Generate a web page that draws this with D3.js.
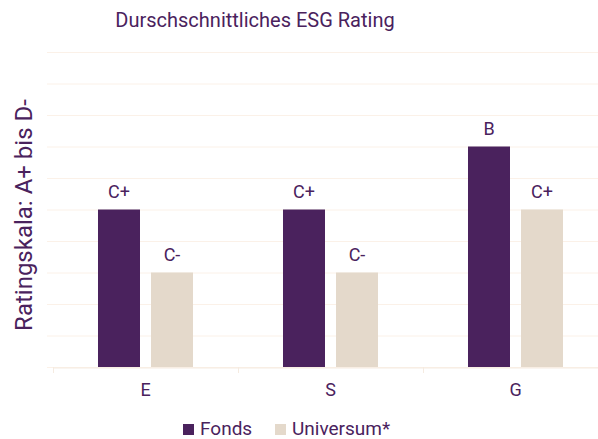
<!DOCTYPE html>
<html>
<head>
<meta charset="utf-8">
<script src="https://cdn.jsdelivr.net/npm/d3@7"></script>
<style>
  body { margin: 0; background: #fff; }
  text { font-family: Roboto, Inter, "DejaVu Sans", sans-serif; fill: #4a225d; }
</style>
</head>
<body>
<div class="svg"></div>
<script>
var categories = ["E", "S", "G"];
var series = ["Fonds", "Universum*"];
var fondsValues = [5, 5, 7];
var universumValues = [3, 3, 5];
var fondsLabels = ["C+", "C+", "B"];
var universumLabels = ["C-", "C-", "C+"];
var yTicks = d3.range(0, 11);

var width = 598,
    height = 439;

var purple = "#4a225d",
    beige = "#e4d9cb",
    grid = "#fbf1e8";

var svg = d3.select(".svg").append("svg")
    .attr("width", width)
    .attr("height", height);

var x0 = d3.scaleBand()
    .domain(categories)
    .range([53, 608])
    .padding(0);

var x1 = d3.scaleBand()
    .domain(series)
    .range([0, x0.bandwidth()])
    .paddingInner(0.2075)
    .paddingOuter(0.849);

var y = d3.scaleLinear()
    .domain([0, 10])
    .range([367, 52]);

var color = d3.scaleOrdinal()
    .domain(series)
    .range([purple, beige]);

// gridlines
svg.append("g")
    .selectAll("line")
    .data(yTicks)
    .enter().append("line")
    .attr("x1", 47)
    .attr("x2", width)
    .attr("y1", function (d) { return y(d) + 0.5; })
    .attr("y2", function (d) { return y(d) + 0.5; })
    .attr("stroke", grid)
    .attr("stroke-width", 1);

// x axis
var xAxis = svg.append("g")
    .attr("transform", "translate(0," + (y(0) + 0.5) + ")")
    .call(d3.axisBottom(x0).tickSize(0).tickPadding(16).tickSizeOuter(0));
xAxis.select(".domain").attr("stroke", "#f5ebe1");
xAxis.selectAll("text")
    .attr("font-size", 18)
    .attr("fill", purple)
    .style("font-family", "Roboto, Inter, sans-serif");

// band boundary ticks
svg.append("g")
    .selectAll("line")
    .data(categories)
    .enter().append("line")
    .attr("x1", function (d) { return Math.round(x0(d)) + 0.5; })
    .attr("x2", function (d) { return Math.round(x0(d)) + 0.5; })
    .attr("y1", y(0))
    .attr("y2", y(0) + 6)
    .attr("stroke", "#f5ebe1");

var rows = categories.map(function (c, i) {
    return [
        {cat: c, key: "Fonds", value: fondsValues[i], label: fondsLabels[i]},
        {cat: c, key: "Universum*", value: universumValues[i], label: universumLabels[i]}
    ];
});

var groups = svg.append("g")
    .selectAll("g")
    .data(rows)
    .enter().append("g")
    .attr("transform", function (d, i) { return "translate(" + x0(categories[i]) + ",0)"; });

groups.selectAll("rect")
    .data(function (d) { return d; })
    .enter().append("rect")
    .attr("x", function (d) { return x1(d.key); })
    .attr("y", function (d) { return y(d.value); })
    .attr("width", x1.bandwidth())
    .attr("height", function (d) { return y(0) - y(d.value); })
    .attr("fill", function (d) { return color(d.key); });

groups.selectAll("text")
    .data(function (d) { return d; })
    .enter().append("text")
    .attr("x", function (d) { return x1(d.key) + x1.bandwidth() / 2; })
    .attr("y", function (d) { return y(d.value) - 12; })
    .attr("text-anchor", "middle")
    .attr("font-size", 18)
    .text(function (d) { return d.label; });

// title
svg.append("text")
    .attr("x", 255)
    .attr("y", 27)
    .attr("text-anchor", "middle")
    .attr("font-size", 20)
    .text("Durschschnittliches ESG Rating");

// y label
svg.append("text")
    .attr("transform", "translate(32,215) rotate(-90)")
    .attr("text-anchor", "middle")
    .attr("font-size", 24)
    .text("Ratingskala: A+ bis D-");

// legend
var legendX = [183, 275];
var legend = svg.append("g")
    .selectAll("g")
    .data(series)
    .enter().append("g")
    .attr("transform", function (d, i) { return "translate(" + legendX[i] + ",0)"; });

legend.append("rect")
    .attr("x", 0)
    .attr("y", 424)
    .attr("width", 11)
    .attr("height", 11)
    .attr("fill", function (d) { return color(d); });

legend.append("text")
    .attr("x", 17)
    .attr("y", 435)
    .attr("font-size", 19)
    .text(function (d) { return d; });
</script>
</body>
</html>
